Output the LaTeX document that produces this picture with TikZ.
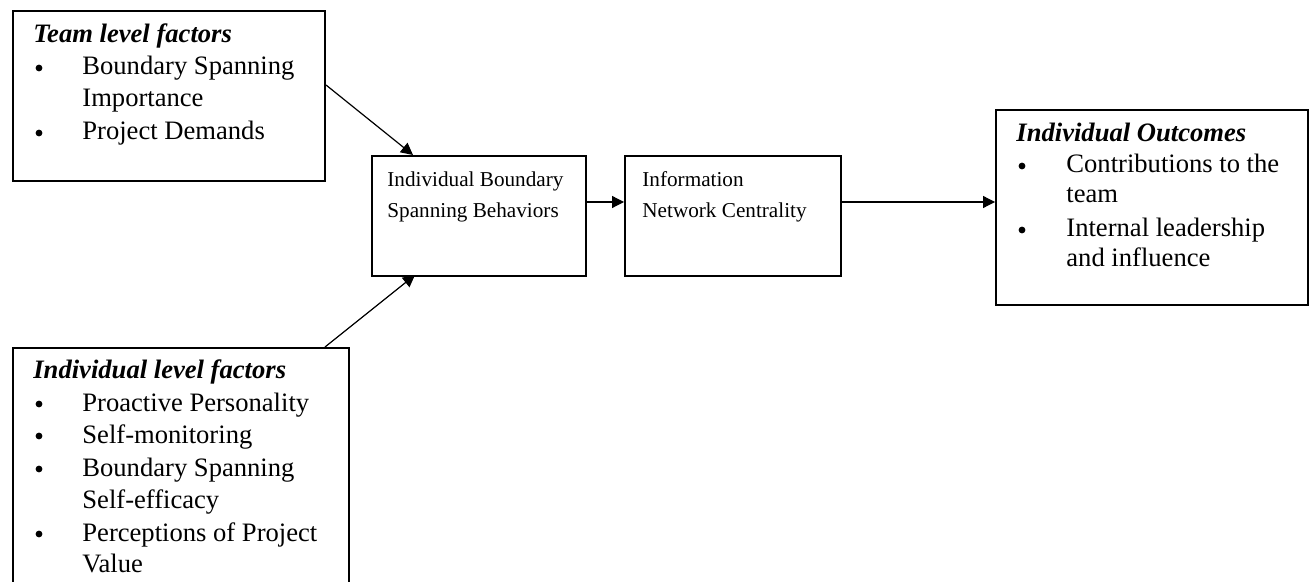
\documentclass[tikz,border=0pt]{standalone}
\usepackage{fontspec}
\setmainfont{Liberation Serif}
\usetikzlibrary{arrows.meta}
\begin{document}
\begin{tikzpicture}[x=0.5pt,y=-0.5pt,
  box/.style={draw,line width=1pt,rectangle,inner sep=0pt,anchor=north west},
  txt/.style={anchor=base west,inner sep=0pt,font=\fontsize{13.3pt}{16pt}\selectfont},
  mid/.style={anchor=base west,inner sep=0pt,font=\fontsize{10.6pt}{13pt}\selectfont},
  head/.style={txt,font=\fontsize{13.3pt}{16pt}\selectfont\bfseries\itshape},
  bul/.style={circle,fill,inner sep=0pt,minimum size=3.4pt},
  arr/.style={line width=0.6pt,-{Triangle[length=6pt,width=6pt]}}]
\useasboundingbox (0,0) rectangle (1309,582);
\begin{scope}
\clip (0,0) rectangle (1309,582);
% boxes
\node[box,minimum width=156pt,minimum height=85pt] (team) at (12,10) {};
\node[box,minimum width=168pt,minimum height=130pt] (indiv) at (12,347) {};
\node[box,minimum width=107pt,minimum height=60pt] (ibsb) at (371,155) {};
\node[box,minimum width=108pt,minimum height=60pt] (inc) at (624,155) {};
\node[box,minimum width=156pt,minimum height=97.5pt] (out) at (995,109) {};
\end{scope}
% team text
\node[head] (t0) at (33,43) {Team level factors};
\node[bul] (tb1) at (39,68) {};
\node[txt] (t1) at (82,75) {Boundary Spanning};
\node[txt] (t2) at (82,107) {Importance};
\node[bul] (tb2) at (39,133) {};
\node[txt] (t3) at (82,140) {Project Demands};
% individual text
\node[head] (i0) at (33,378) {Individual level factors};
\node[bul] (ib1) at (39,404) {};
\node[txt] (i1) at (82,411) {Proactive Personality};
\node[bul] (ib2) at (39,436) {};
\node[txt] (i2) at (82,443) {Self-monitoring};
\node[bul] (ib3) at (39,469) {};
\node[txt] (i3) at (82,476) {Boundary Spanning};
\node[txt] (i4) at (82,508) {Self-efficacy};
\node[bul] (ib4) at (39,534) {};
\node[txt] (i5) at (82,541) {Perceptions of Project};
\node[txt] (i6) at (82,572) {Value};
% middle boxes text
\node[mid] (m1) at (387,187) {Individual Boundary};
\node[mid] (m2) at (387,218) {Spanning Behaviors};
\node[mid] (n1) at (642,187) {Information};
\node[mid] (n2) at (642,218) {Network Centrality};
% outcomes text
\node[head] (o0) at (1016,142) {Individual Outcomes};
\node[bul] (ob1) at (1022,166) {};
\node[txt] (o1) at (1066,173) {Contributions to the};
\node[txt] (o2) at (1066,203) {team};
\node[bul] (ob2) at (1022,230) {};
\node[txt] (o3) at (1066,237) {Internal leadership};
\node[txt] (o4) at (1066,267) {and influence};
% connectors
\coordinate (ts) at (team.north east |- 0,85);
\coordinate (te) at (413,155);
\draw[arr] (ts) -- (te);
\coordinate (is) at (325,347);
\coordinate (ie) at (415,275);
\draw[arr] (is) -- (ie);
\draw[arr] (ibsb.east |- 0,202) -- (inc.west |- 0,202);
\draw[arr] (inc.east |- 0,202) -- (out.west |- 0,202);
\end{tikzpicture}
\end{document}
